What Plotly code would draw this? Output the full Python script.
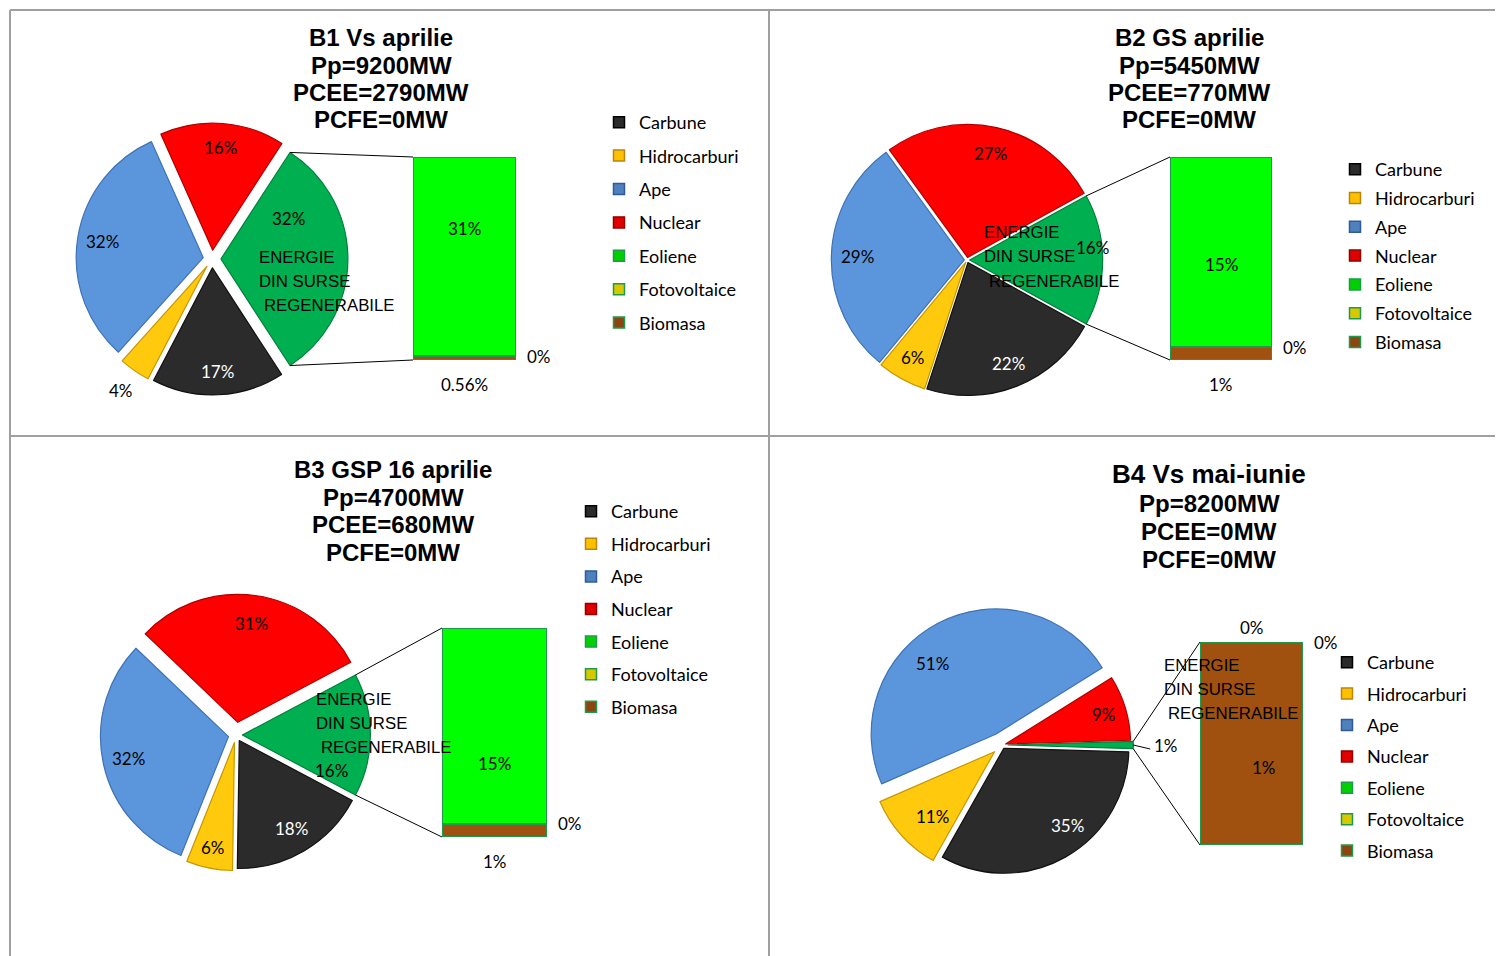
import numpy as np
import plotly.graph_objects as go

W, H = 1503, 956
OFF = 8  # page body margin compensation (pixels)

# ---------------- data ----------------
pie_labels = ["ENERGIE DIN SURSE REGENERABILE", "Carbune", "Hidrocarburi", "Ape", "Nuclear"]
bar_labels = ["Biomasa", "Fotovoltaice", "Eoliene"]          # stacked bottom -> top
legend_labels = ["Carbune", "Hidrocarburi", "Ape", "Nuclear", "Eoliene", "Fotovoltaice", "Biomasa"]

titles = [
    ["B1 Vs aprilie", "Pp=9200MW", "PCEE=2790MW", "PCFE=0MW"],
    ["B2 GS aprilie", "Pp=5450MW", "PCEE=770MW", "PCFE=0MW"],
    ["B3 GSP 16 aprilie", "Pp=4700MW", "PCEE=680MW", "PCFE=0MW"],
    ["B4 Vs mai-iunie", "Pp=8200MW", "PCEE=0MW", "PCFE=0MW"],
]

# pie values (%): RES, Carbune, Hidrocarburi, Ape, Nuclear
b1_pie = [32, 17, 4, 32, 16]
b2_pie = [16, 22, 6, 29, 27]
b3_pie = [16, 18, 6, 32, 31]
b4_pie = [1, 35, 11, 51, 9]
# bar values (%): Biomasa, Fotovoltaice, Eoliene
b1_bar = [0.56, 0, 31]
b2_bar = [1, 0, 15]
b3_bar = [1, 0, 15]
b4_bar = [1, 0, 0]

pies = [b1_pie, b2_pie, b3_pie, b4_pie]
bars = [b1_bar, b2_bar, b3_bar, b4_bar]

# ---------------- styles ----------------
pie_colors = ["#00B050", "#2B2B2B", "#FFC90E", "#5B96DC", "#FF0000"]
pie_edges = ["#00803A", "#111111", "#C89600", "#3F72B5", "#B00000"]
pie_text_colors = ["#000000", "#FFFFFF", "#000000", "#000000", "#000000"]
bar_colors = ["#A0500F", "#D4C010", "#00FF00"]
bar_edge = "#1F9A4A"
leg_colors = ["#2B2B2B", "#FFC000", "#4F81BD", "#E00000", "#00D000", "#D8C800", "#8B4513"]
leg_edges = ["#000000", "#B8860B", "#2E5C99", "#900000", "#1F9A4A", "#1F9A4A", "#1F9A4A"]

LABEL_FONT = "Lato"
TITLE_FONT = "Liberation Sans, Arial"

quads = [
    dict(c=(212, 259), r=127, pull=[0.07] * 5,
         lab=[(0.62, -31), (0.82, 0), (1.19, 0), (0.80, 0), (0.81, 0)],
         bar=(413, 516, 157, 360), leg=(639, 121, 33.3), ins=(0, -28),
         modes=["below", "right", "inside"],
         energie=[(45, -2), (45, 22), (50, 46)],
         tx=381, ty=[37, 65, 93, 120], ts=[24, 24, 24, 24]),
    dict(c=(967, 260), r=133, pull=[0.02] * 5,
         lab=[(0.93, -6), (0.82, 0), (0.82, 0), (0.80, 0), (0.80, 0)],
         bar=(1170, 1272, 157, 360), leg=(1375, 168, 28.7), ins=(0, 12),
         modes=["below", "right", "inside"],
         energie=[(15, -27), (15, -4), (20, 21)],
         tx=1189, ty=[37, 65, 93, 120], ts=[24, 24, 24, 24]),
    dict(c=(236, 735), r=128, pull=[0.05, 0.05, 0.06, 0.06, 0.10],
         lab=[(0.75, 22), (0.80, 0), (0.84, 0), (0.80, 0), (0.78, 0)],
         bar=(442, 547, 628, 837), leg=(611, 510, 32.5), ins=(0, 38),
         modes=["below", "right", "inside"],
         energie=[(78, -36), (78, -12), (83, 12)],
         tx=393, ty=[470, 497, 524, 552], ts=[24, 24, 24, 24]),
    dict(c=(1002, 745), r=125, pull=[0.05, 0.03, 0.08, 0.10, 0.03],
         lab=[(1.26, 0), (0.80, -10), (0.72, -4), (0.76, -14), (0.82, 0)],
         bar=(1200, 1303, 642, 845), leg=(1367, 661, 31.3), ins=(12, 24),
         modes=["inside", "right", "above"],
         energie=[(160, -80), (160, -56), (164, -32)],
         tx=1209, ty=[474, 503, 531, 559], ts=[26, 24, 24, 24]),
]

fig = go.Figure()
annotations = []
shapes = []
layout_extra = {}


def px2paper(x, y):
    return (x - OFF) / W, 1 - (y - OFF) / H


for i, q in enumerate(quads):
    n = i + 1
    sfx = "" if n == 1 else str(n)
    pv = np.array(pies[i], float)
    bv = np.array(bars[i], float)
    pull = np.array(q["pull"], float)
    r = q["r"]
    cx, cy = q["c"]
    R = r * (1 + pull.max())
    ang = pv / pv.sum() * 360.0
    rot = 90 - ang[0] / 2

    dx0, dy1 = px2paper(cx - R, cy - R)
    dx1, dy0 = px2paper(cx + R, cy + R)
    fig.add_trace(go.Pie(
        labels=pie_labels, values=pv, sort=False, direction="clockwise",
        rotation=rot, pull=list(pull),
        domain=dict(x=[dx0, dx1], y=[dy0, dy1]),
        marker=dict(colors=pie_colors, line=dict(color=pie_edges, width=1.2)),
        textinfo="none", showlegend=False,
        hovertemplate="%{label}: %{value}%<extra></extra>"))

    # pie value labels
    starts = rot + np.concatenate([[0], np.cumsum(ang)[:-1]])
    mids = starts + ang / 2
    for j in range(len(pv)):
        k, dth = q["lab"][j]
        th = np.radians(mids[j])
        ox = cx + pull[j] * r * np.sin(th)
        oy = cy - pull[j] * r * np.cos(th)
        th2 = np.radians(mids[j] + dth)
        lx = ox + k * r * np.sin(th2)
        ly = oy - k * r * np.cos(th2)
        x, y = px2paper(lx, ly)
        annotations.append(dict(text=f"{pv[j]:g}%", x=x, y=y, xref="paper", yref="paper",
                                showarrow=False, xanchor="center", yanchor="middle",
                                font=dict(family=LABEL_FONT, size=17, color=pie_text_colors[j])))

    # leader line for outside RES label (tiny slice)
    if q["lab"][0][0] > 1.0:
        tx0 = cx + (1 + pull[0]) * r
        x0, y0 = px2paper(tx0, cy)
        x1, y1 = px2paper(tx0 + 17, cy + 4)
        shapes.append(dict(type="line", xref="paper", yref="paper", x0=x0, y0=y0, x1=x1, y1=y1,
                           line=dict(color="#000000", width=1)))

    # RES category name
    for (dx, dy), t in zip(q["energie"], ["ENERGIE", "DIN SURSE", "REGENERABILE"]):
        x, y = px2paper(cx + dx, cy + dy)
        annotations.append(dict(text=t, x=x, y=y, xref="paper", yref="paper", showarrow=False,
                                xanchor="left", yanchor="middle",
                                font=dict(family=TITLE_FONT, size=16.8, color="#000000")))

    # bar axes
    bx0, bx1, by0, by1 = q["bar"]
    xd0, yd1 = px2paper(bx0, by0)
    xd1, yd0 = px2paper(bx1, by1)
    xdom = [xd0, xd1]
    ydom = [yd0, yd1]
    total = bv.sum()
    layout_extra["xaxis" + sfx] = dict(domain=xdom, range=[-0.5, 0.5], visible=False,
                                       anchor="y" + sfx, fixedrange=True)
    layout_extra["yaxis" + sfx] = dict(domain=ydom, range=[0, total], visible=False,
                                       anchor="x" + sfx, fixedrange=True)

    base = 0.0
    for j in range(len(bv)):
        fig.add_trace(go.Bar(x=[0], y=[bv[j]], width=1, name=bar_labels[j],
                             xaxis="x" + sfx, yaxis="y" + sfx, showlegend=False,
                             marker=dict(color=bar_colors[j], line=dict(color=bar_edge, width=2)),
                             hovertemplate=bar_labels[j] + ": %{y}%<extra></extra>"))
        mode = q["modes"][j]
        txt = f"{bv[j]:g}%"
        a = dict(text=txt, xref="x" + sfx, yref="y" + sfx, showarrow=False,
                 font=dict(family=LABEL_FONT, size=17, color="#000000"))
        if mode == "inside":
            a.update(x=0, y=base + bv[j] / 2, xanchor="center", yanchor="middle",
                     xshift=q["ins"][0], yshift=-q["ins"][1])
        elif mode == "below":
            a.update(x=0, y=0, xanchor="center", yanchor="top", yshift=-12)
        elif mode == "right":
            a.update(x=0.5, y=base + bv[j] / 2, xanchor="left", yanchor="middle", xshift=9)
        elif mode == "above":
            a.update(x=0, y=base + bv[j], xanchor="center", yanchor="bottom", yshift=2)
        annotations.append(a)
        base += bv[j]

    # connector lines from RES slice to the bar
    half = np.radians(ang[0] / 2)
    vx = cx + pull[0] * r
    top = (vx + r * np.cos(half), cy - r * np.sin(half))
    bot = (vx + r * np.cos(half), cy + r * np.sin(half))
    for p, yd in ((top, ydom[1]), (bot, ydom[0])):
        x0, y0 = px2paper(*p)
        shapes.append(dict(type="line", xref="paper", yref="paper", x0=x0, y0=y0,
                           x1=xdom[0], y1=yd, line=dict(color="#000000", width=1)))

    # legend entries
    for j, lab in enumerate(legend_labels):
        fig.add_trace(go.Scatter(x=[None], y=[None], mode="markers", name=lab,
                                 legend="legend" + sfx, legendgroup=f"q{n}_{j}",
                                 xaxis="x" + sfx, yaxis="y" + sfx, hoverinfo="skip",
                                 marker=dict(symbol="square", size=11, color=leg_colors[j],
                                             line=dict(color=leg_edges[j], width=1.5))))
    lx, ly, lsp = q["leg"]
    lgx, lgy = px2paper(lx - 40, ly - 17)
    layout_extra["legend" + sfx] = dict(x=lgx, y=lgy,
                                        xanchor="left", yanchor="top",
                                        bgcolor="rgba(0,0,0,0)", borderwidth=0,
                                        font=dict(family=LABEL_FONT, size=18, color="#000000"),
                                        tracegroupgap=max(lsp - 26.3, 0), itemclick=False,
                                        itemdoubleclick=False)

    # titles
    for t, yy, fs in zip(titles[i], q["ty"], q["ts"]):
        x, y = px2paper(q["tx"], yy)
        annotations.append(dict(text=f"<b>{t}</b>", x=x, y=y, xref="paper", yref="paper",
                                showarrow=False, xanchor="center", yanchor="middle",
                                font=dict(family=TITLE_FONT, size=fs, color="#000000")))

# quadrant frame lines
grid = "#A0A0A0"
for (x0, y0, x1, y1) in [(10, 10, W + OFF, 10), (10, 10, 10, H + OFF),
                         (769, 10, 769, H + OFF), (10, 436, W + OFF, 436)]:
    a0 = px2paper(x0, y0)
    a1 = px2paper(x1, y1)
    shapes.append(dict(type="line", xref="paper", yref="paper", x0=a0[0], y0=a0[1],
                       x1=a1[0], y1=a1[1], line=dict(color=grid, width=2), layer="below"))

fig.update_layout(
    width=W, height=H, autosize=False,
    margin=dict(l=0, r=0, t=0, b=0, pad=0),
    paper_bgcolor="#FFFFFF", plot_bgcolor="rgba(0,0,0,0)",
    barmode="stack", bargap=0,
    annotations=annotations, shapes=shapes,
    **layout_extra,
)

fig.write_html("out.html")
